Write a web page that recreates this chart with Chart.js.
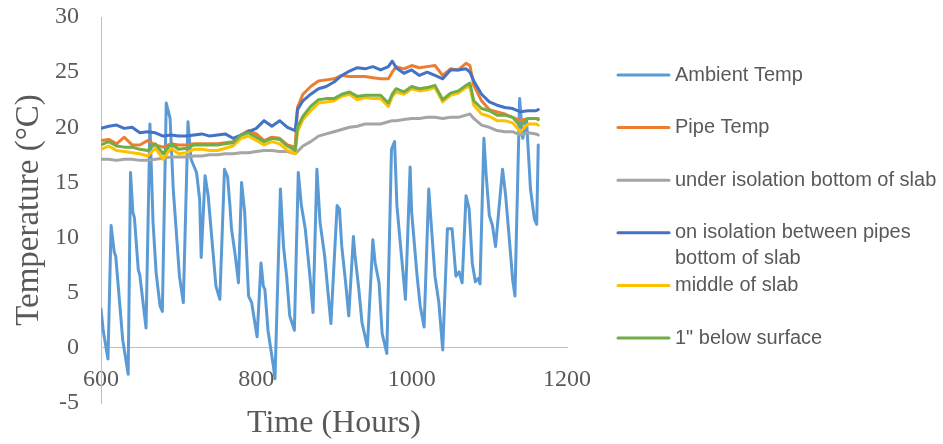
<!DOCTYPE html>
<html>
<head>
<meta charset="UTF-8">
<title>Slab Temperatures</title>
<script src="https://cdn.jsdelivr.net/npm/chart.js@4.4.1/dist/chart.umd.min.js"></script>
<style>
  body { margin: 0; background: #fff; }
  #wrap { width: 943px; height: 444px; position: relative; }
</style>
</head>
<body>
<div id="wrap"><canvas id="chart"></canvas></div>
<script>
// series names + excel default colours
const seriesNames = [
  'Ambient Temp',
  'Pipe Temp',
  'under isolation bottom of slab',
  'on isolation between pipes bottom of slab',
  'middle of slab',
  '1" below surface'
];
const seriesColors = ['#5B9BD5', '#ED7D31', '#A5A5A5', '#4472C4', '#FFC000', '#70AD47'];

const xTicks = [600, 800, 1000, 1200];
const yTicks = [-5, 0, 5, 10, 15, 20, 25, 30];

const ambientHours = [600, 603, 609, 613, 617, 619, 628, 635, 638, 641, 643, 648, 650, 658, 663, 667, 671, 676, 679,
  684, 689, 693, 697, 701, 706, 712, 716, 723, 727, 729, 734, 738, 742, 748, 753, 759, 763, 766, 768, 773, 777,
  781, 785, 790, 794, 798, 801, 806, 809, 811, 815, 822, 824, 831, 835, 839, 843, 849, 854, 858, 863, 869, 873,
  878, 882, 888, 896, 904, 907, 910, 915, 919, 925, 927, 932, 936, 943, 950, 953, 958, 962, 968, 974, 978, 981,
  985, 992, 998, 1000, 1007, 1011, 1016, 1022, 1025, 1030, 1035, 1040, 1046, 1052, 1057, 1061, 1065, 1070, 1074,
  1078, 1082, 1086, 1088, 1093, 1096, 1100, 1104, 1108, 1117, 1121, 1125, 1130, 1133, 1139, 1143, 1148, 1153,
  1158, 1161, 1163];
const ambientTemp = [3.5, 1.5, -1.0, 11.1, 8.7, 8.3, 0.7, -2.4, 15.9, 12.3, 11.8, 7.1, 6.6, 1.8, 20.3, 11.4, 6.8, 3.8, 3.3,
  22.2, 20.8, 14.4, 10.5, 6.5, 4.1, 20.5, 17.1, 15.9, 13.5, 8.2, 15.6, 13.8, 10.5, 5.6, 4.4, 16.2, 15.5, 12.9, 10.8, 8.3, 5.9,
  15.0, 12.3, 4.7, 4.1, 2.3, 1.0, 7.7, 5.6, 5.3, 1.6, -1.7, -2.8, 14.4, 9.2, 6.5, 2.9, 1.6, 15.9, 12.9, 10.8, 6.5, 3.2,
  16.2, 11.4, 8.3, 2.2, 12.9, 12.6, 9.2, 5.9, 2.9, 10.1, 8.4, 5.3, 2.3, 0.1, 9.8, 7.7, 5.9, 1.3, -0.5, 18.0, 18.7, 12.9,
  9.8, 4.4, 16.4, 12.3, 6.5, 3.8, 1.9, 14.4, 11.4, 6.5, 4.1, -0.2, 10.8, 10.8, 6.5, 6.9, 5.9, 13.8, 12.6,
  7.7, 6.0, 6.3, 5.8, 19.0, 15.6, 12.0, 11.1, 9.2, 16.2, 13.8, 10.5, 6.2, 4.7, 22.6, 19.0, 20.5, 14.4,
  11.7, 11.2, 18.4];

// slab sensors share one time base
const slabHours = [600, 610, 620, 630, 640, 650, 660, 670, 680, 690, 700, 710, 720, 730, 740, 750, 760, 770, 780, 790,
  800, 810, 820, 830, 840, 850, 853, 860, 870, 880, 890, 900, 910, 920, 930, 940, 950, 960, 970, 975, 980, 990,
  1000, 1010, 1020, 1030, 1040, 1050, 1060, 1070, 1075, 1080, 1090, 1100, 1110, 1120, 1130, 1140, 1150, 1160, 1163];
const pipeTemp = [18.8, 18.9, 18.5, 19.1, 18.4, 18.4, 18.8, 18.4, 18.2, 18.5, 18.4, 18.4, 18.5, 18.5, 18.5, 18.5, 18.6, 18.7, 19.3, 19.7,
  19.4, 18.8, 19.1, 19.0, 18.4, 18.2, 21.8, 23.0, 23.7, 24.2, 24.3, 24.4, 24.7, 24.6, 24.6, 24.6, 24.5, 24.4, 24.4, 25.0, 25.5, 25.3,
  25.6, 25.4, 25.5, 25.6, 24.7, 25.3, 25.2, 25.8, 25.6, 23.8, 22.4, 21.6, 21.4, 21.2, 20.9, 20.6, 20.8, 20.8, 20.8];
const underIsolation = [17.1, 17.1, 17.0, 17.1, 17.1, 17.0, 17.0, 17.1, 17.2, 17.3, 17.3, 17.3, 17.4, 17.4, 17.5, 17.5, 17.6, 17.6, 17.7, 17.7,
  17.8, 17.9, 17.9, 17.8, 17.8, 17.6, 17.8, 18.3, 18.7, 19.2, 19.4, 19.6, 19.8, 20.0, 20.1, 20.3, 20.3, 20.3, 20.5, 20.6, 20.6, 20.7,
  20.8, 20.8, 20.9, 20.9, 20.8, 20.9, 20.9, 21.1, 21.2, 20.8, 20.2, 20.0, 19.7, 19.6, 19.6, 19.3, 19.5, 19.4, 19.3];
const onIsolation = [19.9, 20.1, 20.2, 19.9, 20.0, 19.5, 19.6, 19.5, 19.2, 19.3, 19.2, 19.2, 19.3, 19.4, 19.2, 19.3, 19.4, 19.0, 19.3, 19.6,
  19.9, 20.6, 20.1, 20.6, 20.0, 19.7, 21.6, 22.4, 23.0, 23.5, 23.7, 24.1, 24.7, 25.1, 25.4, 25.3, 25.5, 25.2, 25.5, 26.0, 25.4, 24.9,
  25.2, 24.7, 25.0, 24.7, 24.4, 25.2, 25.2, 25.3, 25.0, 24.2, 23.0, 22.3, 22.0, 21.8, 21.7, 21.4, 21.5, 21.5, 21.6];
const middleSlab = [18.0, 18.3, 17.9, 17.8, 17.7, 17.6, 17.4, 18.1, 17.1, 18.1, 17.6, 17.7, 18.0, 18.0, 17.9, 17.9, 18.1, 18.3, 19.0, 19.2,
  18.8, 18.4, 18.7, 18.5, 17.9, 17.6, 19.6, 20.7, 21.5, 22.2, 22.3, 22.4, 22.8, 23.0, 22.5, 22.7, 22.6, 22.6, 21.9, 22.8, 23.2, 23.0,
  23.5, 23.3, 23.4, 23.6, 22.3, 22.9, 23.1, 23.6, 23.7, 22.0, 21.2, 21.0, 20.6, 20.6, 20.4, 19.6, 20.3, 20.3, 20.2];
const belowSurface = [18.4, 18.7, 18.3, 18.2, 18.2, 18.0, 17.9, 18.5, 17.6, 18.5, 18.0, 18.1, 18.4, 18.4, 18.4, 18.4, 18.5, 18.6, 19.3, 19.5,
  19.1, 18.7, 19.0, 18.9, 18.3, 17.9, 20.0, 21.0, 21.9, 22.5, 22.6, 22.6, 23.0, 23.2, 22.8, 22.9, 22.9, 22.9, 22.2, 23.0, 23.5, 23.2,
  23.7, 23.5, 23.6, 23.8, 22.5, 23.1, 23.3, 23.8, 24.0, 22.4, 21.7, 21.5, 21.1, 21.1, 20.9, 20.1, 20.8, 20.8, 20.7];

const series = [
  [ambientHours, ambientTemp],
  [slabHours, pipeTemp],
  [slabHours, underIsolation],
  [slabHours, onIsolation],
  [slabHours, middleSlab],
  [slabHours, belowSurface]
];

const serif = '"Liberation Serif", "Times New Roman", serif';
const textGray = '#595959';
const axisGray = '#BFBFBF';

function toPoints(hours, temps) {
  return hours.map((h, i) => ({ x: h, y: temps[i] }));
}

// split a label into lines that fit maxWidth
function wrapText(ctx, text, maxWidth) {
  const words = text.split(' ');
  const lines = [];
  let line = '';
  for (const w of words) {
    const test = line ? line + ' ' + w : w;
    if (line && ctx.measureText(test).width > maxWidth) {
      lines.push(line);
      line = w;
    } else {
      line = test;
    }
  }
  lines.push(line);
  return lines;
}

// excel style legend on the right, one entry every ~53px
const sideLegend = {
  id: 'sideLegend',
  afterDraw(chart) {
    const ctx = chart.ctx;
    const x0 = chart.chartArea.right + 50;
    ctx.save();
    ctx.font = '20px "Liberation Sans", Arial, sans-serif';
    ctx.fillStyle = textGray;
    ctx.textBaseline = 'middle';
    ctx.textAlign = 'left';
    let y = 75;
    chart.data.datasets.forEach(ds => {
      ctx.strokeStyle = ds.borderColor;
      ctx.lineWidth = 3;
      ctx.lineCap = 'round';
      ctx.beginPath();
      ctx.moveTo(x0 + 1, y);
      ctx.lineTo(x0 + 52, y);
      ctx.stroke();
      wrapText(ctx, ds.label, 275).forEach((t, i) => ctx.fillText(t, x0 + 58, y + i * 26));
      y += 52.6;
    });
    ctx.restore();
  }
};

new Chart(document.getElementById('chart'), {
  type: 'line',
  data: {
    datasets: seriesNames.map((name, i) => ({
      label: name,
      data: toPoints(series[i][0], series[i][1]),
      borderColor: seriesColors[i],
      backgroundColor: seriesColors[i],
      borderWidth: 3,
      pointRadius: 0,
      tension: 0,
      fill: false,
      borderJoinStyle: 'round',
      borderCapStyle: 'round',
      order: seriesNames.length - i
    }))
  },
  options: {
    responsive: true,
    maintainAspectRatio: false,
    animation: false,
    layout: { padding: { left: 0, top: 17, right: 376, bottom: 41 } },
    plugins: {
      legend: { display: false },
      tooltip: { enabled: false }
    },
    scales: {
      x: {
        type: 'linear',
        min: 600,
        max: 1200,
        position: { y: 0 },
        afterBuildTicks: s => { s.ticks = xTicks.map(v => ({ value: v })); },
        afterFit: s => { s.height = 95; },
        ticks: {
          font: { family: serif, size: 24 },
          color: textGray,
          padding: 17,
          maxRotation: 0,
          autoSkip: false,
          callback: v => String(v)
        },
        grid: { display: false, drawTicks: false },
        border: { display: true, color: axisGray, width: 1 },
        title: {
          display: true,
          text: 'Time (Hours)',
          font: { family: serif, size: 32 },
          color: textGray,
          padding: 0
        }
      },
      y: {
        min: -5,
        max: 30,
        afterBuildTicks: s => { s.ticks = yTicks.map(v => ({ value: v })); },
        afterFit: s => {
          s.width = 101;
          // tick padding would otherwise push the plot top down
          s.paddingTop = 0;
          s.paddingBottom = 0;
        },
        ticks: {
          font: { family: serif, size: 24 },
          color: textGray,
          padding: 22,
          callback: v => String(v)
        },
        grid: { display: false, drawTicks: false },
        border: { display: true, color: axisGray, width: 1 },
        title: {
          display: true,
          text: 'Temperature (°C)',
          font: { family: serif, size: 33 },
          color: textGray,
          padding: { top: 10, bottom: 0 }
        }
      }
    }
  },
  plugins: [sideLegend]
});
</script>
</body>
</html>
